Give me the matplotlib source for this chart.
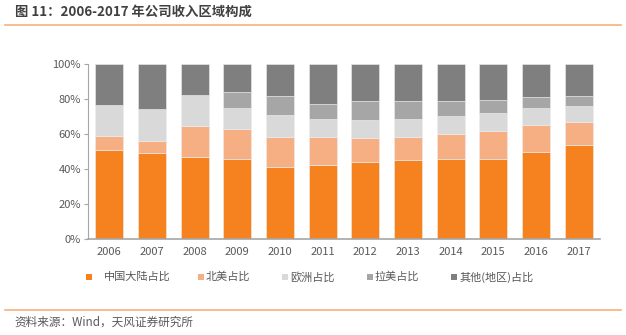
#!/usr/bin/env python3
"""
Stacked revenue-by-region share bars, 2006-2017.
"""

import matplotlib
matplotlib.use("Agg")
import matplotlib.pyplot as plt
from matplotlib.patches import Rectangle
from matplotlib.ticker import PercentFormatter
from matplotlib.lines import Line2D

plt.rcParams["font.family"] = ["Noto Sans CJK SC", "DejaVu Sans"]

years = ["2006", "2007", "2008", "2009", "2010", "2011",
         "2012", "2013", "2014", "2015", "2016", "2017"]
china = [51.0, 49.3, 47.0, 45.9, 41.3, 42.5, 44.2, 45.3, 45.7, 45.9, 49.9, 53.9]
north_america = [8.0, 6.9, 17.6, 17.1, 16.8, 15.6, 13.7, 13.2, 14.5, 16.0, 15.4, 13.0]
europe = [17.6, 18.3, 17.5, 12.0, 12.6, 10.3, 9.9, 10.3, 10.3, 10.3, 9.6, 9.1]
latam = [0.0, 0.0, 0.0, 9.2, 11.2, 8.9, 11.2, 10.2, 8.4, 7.4, 6.4, 5.9]
others = [23.4, 25.5, 17.9, 15.8, 18.1, 22.7, 21.0, 21.0, 21.1, 20.4, 18.7, 18.1]

series = [
    ("中国大陆占比", china, "#F5821F"),
    ("北美占比", north_america, "#F5AF82"),
    ("欧洲占比", europe, "#D9D9D9"),
    ("拉美占比", latam, "#A6A6A6"),
    ("其他(地区)占比", others, "#7F7F7F"),
]

TEXT = "#595959"
W, H = 626, 335

fig = plt.figure(figsize=(6.26, 3.35), dpi=100)
ax = fig.add_axes([88 / W, 1 - 239 / H, 512 / W, 175 / H])

x = range(len(years))
bottom = [0.0] * len(years)
for name, vals, color in series:
    ax.bar(x, vals, width=0.66, bottom=bottom, color=color, label=name,
           edgecolor="#EDEDED", linewidth=0.4)
    bottom = [b + v for b, v in zip(bottom, vals)]

ax.set_xlim(-0.5, len(years) - 0.5)
ax.set_ylim(0, 100)
ax.set_yticks(range(0, 101, 20))
ax.yaxis.set_major_formatter(PercentFormatter(decimals=0))
ax.set_xticks(list(x), labels=years)
ax.tick_params(axis="y", length=3, color="#A6A6A6", labelsize=8, labelcolor=TEXT, pad=2)
ax.tick_params(axis="x", length=0, labelsize=8, labelcolor=TEXT, pad=6)
for side in ("top", "right"):
    ax.spines[side].set_visible(False)
ax.spines["left"].set_color("#A6A6A6")
ax.spines["bottom"].set_color("#A6A6A6")
ax.spines["bottom"].set_linewidth(1.2)

# legend laid out by hand: (marker left px, text left px)
legend_pos = [(86, 104), (198, 206), (282, 290), (367, 375), (451, 459)]
ly = 277
for (mx, tx), (name, _, color) in zip(legend_pos, series):
    fig.add_artist(Rectangle((mx / W, 1 - (ly + 3) / H), 6 / W, 6 / H,
                             transform=fig.transFigure, facecolor=color,
                             edgecolor="none"))
    fig.text(tx / W, 1 - ly / H, name, fontsize=8, color=TEXT, va="center")

fig.text(15 / W, 1 - 12 / H, "图 11：2006-2017 年公司收入区域构成", fontsize=9.6,
         fontweight="bold", color="#404040", va="center")
fig.add_artist(Line2D([0.008, 0.992], [1 - 25 / H] * 2, color="#F7B07A", linewidth=1.2))
fig.add_artist(Line2D([0.008, 0.992], [1 - 310 / H] * 2, color="#F7B07A", linewidth=1.2))
fig.text(14 / W, 1 - 322 / H, "资料来源：Wind，天风证券研究所", fontsize=8.4,
         color=TEXT, va="center")

fig.savefig("out.png", dpi=100)
plt.close(fig)
